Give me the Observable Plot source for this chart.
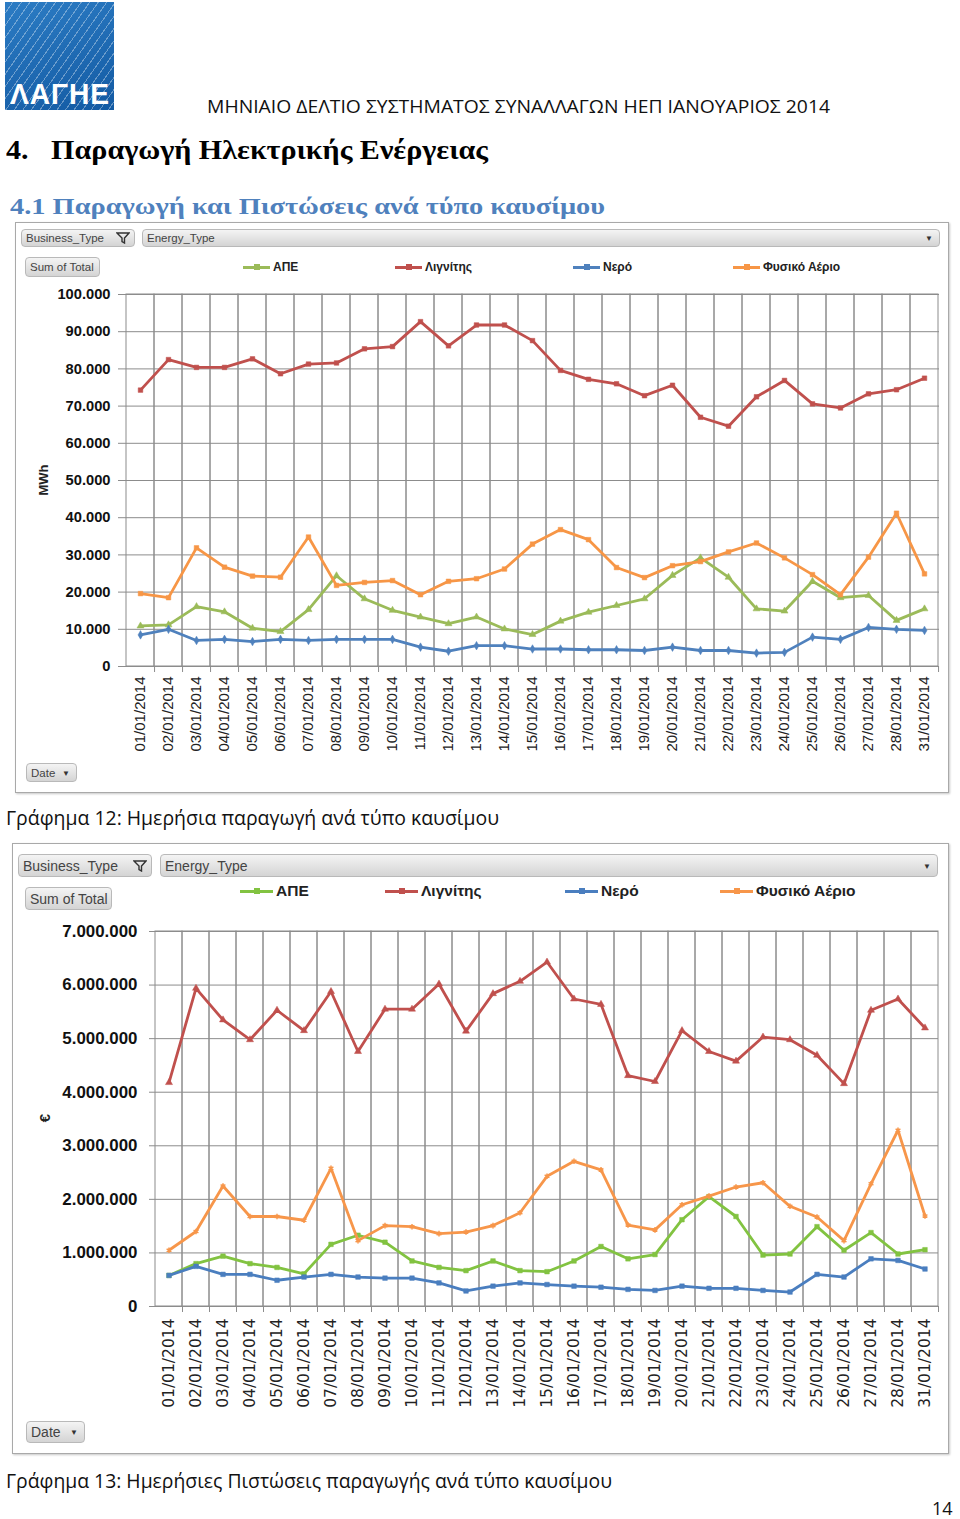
<!DOCTYPE html>
<html><head><meta charset="utf-8">
<script src="https://cdn.jsdelivr.net/npm/d3@7"></script>
<script src="https://cdn.jsdelivr.net/npm/@observablehq/plot@0.6"></script>
<style>
html,body{margin:0;padding:0;background:#fff;}
#page{position:relative;width:960px;height:1519px;overflow:hidden;font-family:"Open Sans","DejaVu Sans",sans-serif;color:#000;}
.abs{position:absolute;white-space:nowrap;}
.fit{transform-origin:left center;}
.panel{position:absolute;border:1.5px solid #a9a9a9;box-shadow:1px 1px 2px #c8c8c8;background:#fff;}
.btn{position:absolute;box-sizing:border-box;border:1px solid #b9b9b9;border-radius:4px;background:linear-gradient(#f4f4f4,#d4d4d4);color:#444;font-family:"Liberation Sans",sans-serif;display:flex;align-items:center;padding-left:4px;overflow:hidden;white-space:nowrap;}
.arrow{position:absolute;right:6px;top:50%;transform:translateY(-50%);font-size:8px;color:#333;}
.leg{position:absolute;display:flex;align-items:center;font-family:"Liberation Sans",sans-serif;font-weight:bold;color:#222;white-space:nowrap;}
.sw{position:relative;height:3px;margin-right:3px;}
.sw i{position:absolute;left:50%;top:50%;width:6px;height:6px;transform:translate(-50%,-50%);}
.chart{position:absolute;left:0;}
</style></head>
<body><div id="page"></div>
<script>
// ---------- data ----------
const dates = ["01/01/2014","02/01/2014","03/01/2014","04/01/2014","05/01/2014","06/01/2014","07/01/2014","08/01/2014","09/01/2014","10/01/2014","11/01/2014","12/01/2014","13/01/2014","14/01/2014","15/01/2014","16/01/2014","17/01/2014","18/01/2014","19/01/2014","20/01/2014","21/01/2014","22/01/2014","23/01/2014","24/01/2014","25/01/2014","26/01/2014","27/01/2014","28/01/2014","31/01/2014"];
const seriesNames = ["ΑΠΕ","Λιγνίτης","Νερό","Φυσικό Αέριο"];
const seriesColors = ["#9bbb59","#c0504d","#4f81bd","#f79646"];
const seriesColors2 = ["#82c341","#c0504d","#4a7ebf","#f7964a"];

// Γράφημα 12: MWh
const mwhRes     = [10900,11200,16100,14700,10300,9400,15300,24400,18200,15100,13300,11500,13300,10100,8600,12200,14600,16400,18200,24500,29200,24000,15500,14900,22900,18500,19100,12400,15500];
const mwhLignite = [74300,82500,80400,80400,82700,78700,81300,81600,85400,86000,92700,86200,91800,91800,87600,79600,77200,76000,72800,75600,67000,64600,72500,76900,70600,69500,73300,74400,77500];
const mwhHydro   = [8500,10000,7000,7300,6700,7300,7000,7300,7300,7300,5200,4100,5600,5600,4700,4700,4500,4500,4300,5200,4300,4300,3600,3800,7900,7300,10500,10000,9700];
const mwhGas     = [19600,18500,31900,26700,24300,24000,34800,21800,22600,23100,19300,22900,23600,26200,32900,36800,34100,26600,23900,27100,28200,30800,33200,29200,24700,19300,29400,41200,24900];
const mwhTicks   = [0,10000,20000,30000,40000,50000,60000,70000,80000,90000,100000];

// Γράφημα 13: €
const eurRes     = [580000,800000,940000,800000,730000,610000,1160000,1330000,1200000,850000,730000,670000,850000,670000,650000,850000,1120000,890000,970000,1620000,2050000,1680000,960000,980000,1490000,1050000,1380000,980000,1060000];
const eurLignite = [4180000,5940000,5350000,4980000,5530000,5150000,5880000,4760000,5550000,5550000,6020000,5140000,5840000,6070000,6430000,5740000,5640000,4310000,4200000,5150000,4760000,4580000,5030000,4980000,4690000,4160000,5530000,5740000,5200000];
const eurHydro   = [580000,750000,600000,600000,490000,550000,600000,550000,530000,530000,440000,290000,380000,440000,410000,380000,360000,320000,300000,380000,340000,340000,300000,270000,600000,550000,890000,860000,700000];
const eurGas     = [1050000,1400000,2250000,1680000,1680000,1610000,2580000,1230000,1510000,1490000,1360000,1390000,1510000,1750000,2430000,2710000,2550000,1520000,1430000,1900000,2060000,2230000,2310000,1870000,1670000,1230000,2290000,3290000,1690000];
const eurTicks   = [0,1000000,2000000,3000000,4000000,5000000,6000000,7000000];

const fmt = d3.formatLocale({decimal:",", thousands:".", grouping:[3], currency:["","€"]}).format(",");

// ---------- page helpers ----------
const page = document.getElementById("page");
function add(html){ const t=document.createElement("div"); t.innerHTML=html.trim(); const el=t.firstChild; page.appendChild(el); return el; }
function fit(el,w){ const r=w/el.getBoundingClientRect().width; el.style.transform=`scaleX(${r})`; }

// logo
add(`<div class="abs" style="left:5px;top:2px;width:109px;height:108px;background:
  repeating-linear-gradient(125deg, rgba(255,255,255,0) 0 6px, rgba(255,255,255,0.35) 6px 7px),
  linear-gradient(160deg,#2c7cc4,#135aa3);"></div>`);
fit(add(`<div class="abs fit" style="left:10px;top:78px;font:bold 30px/32px 'Liberation Sans';color:#fff;letter-spacing:1px;">ΛΑΓΗΕ</div>`),100);

fit(add(`<div class="abs fit" style="left:207px;top:94px;font:19px/24px 'Open Sans';color:#111;">ΜΗΝΙΑΙΟ ΔΕΛΤΙΟ ΣΥΣΤΗΜΑΤΟΣ ΣΥΝΑΛΛΑΓΩΝ ΗΕΠ ΙΑΝΟΥΑΡΙΟΣ 2014</div>`),623);
fit(add(`<div class="abs fit" style="left:6px;top:133px;font:bold 27px/34px 'Liberation Serif';color:#000;">4.&nbsp;&nbsp;&nbsp;Παραγωγή Ηλεκτρικής Ενέργειας</div>`),482);
fit(add(`<div class="abs fit" style="left:10px;top:191px;font:bold 24px/30px 'Liberation Serif';color:#4f81bd;">4.1 Παραγωγή και Πιστώσεις ανά τύπο καυσίμου</div>`),595);

const funnel = `<svg width="14" height="12" viewBox="0 0 14 12" style="position:absolute;right:4px;top:50%;transform:translateY(-50%)"><path d="M1 1h12L8.5 6v5L6 9.5V6z" fill="none" stroke="#333" stroke-width="1.4"/></svg>`;

function panelChrome(o){
  add(`<div class="panel" style="left:${o.px}px;top:${o.py}px;width:${o.pw}px;height:${o.ph}px;"></div>`);
  add(`<div class="btn" style="left:${o.b1[0]}px;top:${o.b1[1]}px;width:${o.b1[2]}px;height:${o.b1[3]}px;font-size:${o.bf}px;">Business_Type${funnel}</div>`);
  add(`<div class="btn" style="left:${o.b2[0]}px;top:${o.b2[1]}px;width:${o.b2[2]}px;height:${o.b2[3]}px;font-size:${o.bf}px;">Energy_Type<span class="arrow">▼</span></div>`);
  add(`<div class="btn" style="left:${o.b3[0]}px;top:${o.b3[1]}px;width:${o.b3[2]}px;height:${o.b3[3]}px;font-size:${o.bf}px;">Sum of Total</div>`);
  add(`<div class="btn" style="left:${o.b4[0]}px;top:${o.b4[1]}px;width:${o.b4[2]}px;height:${o.b4[3]}px;font-size:${o.bf}px;">Date<span class="arrow">▼</span></div>`);
  seriesNames.forEach((n,i)=>{
    add(`<div class="leg" style="left:${o.legX[i]}px;top:${o.legY-10}px;height:20px;font-size:${o.lf}px;">
      <span class="sw" style="width:${o.sw}px;background:${o.colors[i]};"><i style="background:${o.colors[i]};"></i></span>${n}</div>`);
  });
  add(`<div class="abs" style="left:${o.unit[0]}px;top:${o.unit[1]}px;transform:translate(-50%,-50%) rotate(-90deg);font:bold ${o.uf}px 'Liberation Sans';color:#222;">${o.unitText}</div>`);
}

const symbols1 = ["triangle","square","diamond","square"];
const symbols2 = ["square","triangle","square","asterisk"];

function chart(o){
  const W=960, frameW = W - o.ml - o.mr, frameH = o.h - o.mt - o.mb;
  const step = frameW / dates.length;
  const series = [o.res,o.lignite,o.hydro,o.gas];
  const marks = [
    Plot.gridY(o.ticks,{stroke:"#8c8c8c",strokeOpacity:1}),
    Plot.cell(dates,{x:d=>d,stroke:"#8c8c8c",fill:"none",strokeWidth:1}),
    Plot.ruleX(dates,{x:d=>d,dx:step/2,insetTop:frameH,insetBottom:-6,stroke:"#8c8c8c"}),
    Plot.axisY(o.ticks,{tickFormat:fmt,tickSize:6,tickPadding:o.ytp,fontSize:o.yfs,fontWeight:"bold",stroke:"#8c8c8c",fill:"#111",label:null}),
    Plot.axisX({tickRotate:-90,tickSize:0,tickPadding:o.xtp,fontSize:o.xfs,fontFamily:o.xff,fill:"#222",label:null})
  ];
  series.forEach((vals,i)=>{
    marks.push(Plot.line(vals,{x:(d,j)=>dates[j],y:d=>d,stroke:o.colors[i],strokeWidth:2.8,strokeLinejoin:"round",strokeLinecap:"round"}));
    marks.push(Plot.dot(vals,{x:(d,j)=>dates[j],y:d=>d,symbol:o.symbols[i],r:2.6,fill:o.symbols[i]==="asterisk"?"none":o.colors[i],stroke:o.colors[i],strokeWidth:o.symbols[i]==="asterisk"?1.5:0.5}));
  });
  const svg = Plot.plot({
    width:W,height:o.h,marginLeft:o.ml,marginRight:o.mr,marginTop:o.mt,marginBottom:o.mb,
    style:{fontFamily:"Liberation Sans",background:"transparent",overflow:"visible"},
    x:{type:"band",domain:dates,padding:0},
    y:{domain:[0,o.ticks[o.ticks.length-1]]},
    marks
  });
  svg.classList.add("chart");
  svg.style.top = o.top+"px";
  page.appendChild(svg);
}

// ---------- chart 12 ----------
panelChrome({px:15,py:222,pw:932,ph:569,
  b1:[21,229,114,18],b2:[142,229,798,18],b3:[25,257,75,20],b4:[26,763,51,19],bf:11.5,
  legY:267,legX:[243,395,573,733],sw:27,lf:12,colors:seriesColors,unit:[43,480],uf:13,unitText:"MWh"});
chart({top:280,h:480,ml:124,mr:21,mt:14,mb:94,ticks:mwhTicks,ytp:8,yfs:14.7,xtp:10,xfs:15,xff:"Liberation Sans",
  res:mwhRes,lignite:mwhLignite,hydro:mwhHydro,gas:mwhGas,colors:seriesColors,symbols:symbols1});
fit(add(`<div class="abs fit" style="left:6px;top:805px;font:20px/26px 'Open Sans';color:#111;">Γράφημα 12: Ημερήσια παραγωγή ανά τύπο καυσίμου</div>`),493);

// ---------- chart 13 ----------
panelChrome({px:12,py:843,pw:935,ph:609,
  b1:[18,854,134,23],b2:[160,854,778,23],b3:[25,887,87,23],b4:[26,1421,59,22],bf:14,
  legY:891,legX:[240,385,565,720],sw:33,lf:15.5,colors:seriesColors2,unit:[44,1118],uf:15,unitText:"€"});
chart({top:915,h:500,ml:155,mr:22,mt:16,mb:109,ticks:eurTicks,ytp:12,yfs:16.9,xtp:12,xfs:15.5,xff:"DejaVu Sans",
  res:eurRes,lignite:eurLignite,hydro:eurHydro,gas:eurGas,colors:seriesColors2,symbols:symbols2});
fit(add(`<div class="abs fit" style="left:6px;top:1468px;font:20px/26px 'Open Sans';color:#111;">Γράφημα 13: Ημερήσιες Πιστώσεις παραγωγής ανά τύπο καυσίμου</div>`),606);

add(`<div class="abs" style="left:932px;top:1496px;font:18px/24px 'Open Sans';color:#111;">14</div>`);
</script>
</body></html>
